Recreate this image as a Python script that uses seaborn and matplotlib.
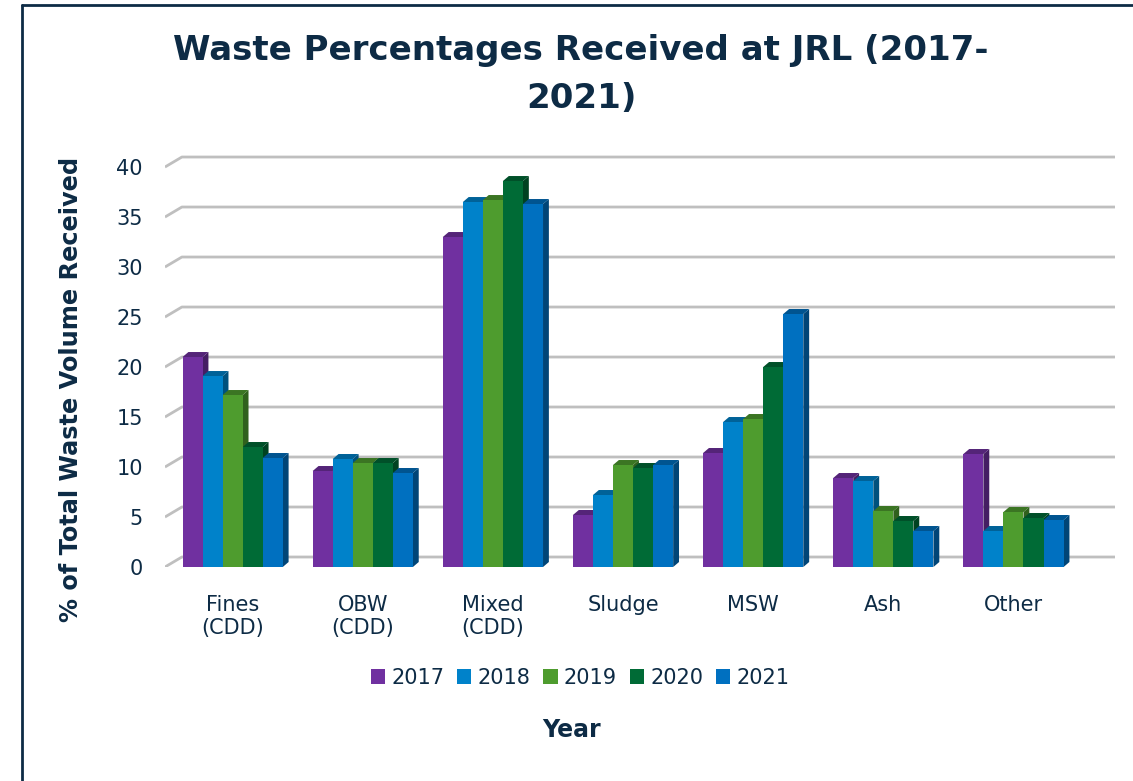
import pandas as pd
import seaborn as sns
import matplotlib.pyplot as plt
from matplotlib.colors import to_rgb
from matplotlib.patches import Polygon
from matplotlib.lines import Line2D

# Dane
categories = ['Fines\n(CDD)', 'OBW\n(CDD)', 'Mixed\n(CDD)', 'Sludge', 'MSW', 'Ash', 'Other']
years = ['2017', '2018', '2019', '2020', '2021']
values_2017 = [21.0, 9.6, 33.0, 5.2, 11.4, 8.9, 11.3]
values_2018 = [19.1, 10.8, 36.5, 7.2, 14.5, 8.6, 3.6]
values_2019 = [17.2, 10.4, 36.7, 10.2, 14.8, 5.6, 5.5]
values_2020 = [12.0, 10.4, 38.6, 9.9, 20.0, 4.6, 4.9]
values_2021 = [10.9, 9.4, 36.3, 10.2, 25.3, 3.6, 4.7]
colors = ['#7030A0', '#0082CA', '#4E9C2E', '#006B36', '#0070C0']

text_color = '#0D2B45'

rows = []
for year, vals in zip(years, [values_2017, values_2018, values_2019, values_2020, values_2021]):
    for cat, v in zip(categories, vals):
        rows.append({'category': cat, 'year': year, 'value': v})
df = pd.DataFrame(rows)

sns.set_style('white')
plt.rcParams['font.family'] = ['DejaVu Sans']

fig = plt.figure(figsize=(11.33, 7.81), dpi=100)
# os: 0 na y=567 px, gora na y=155 px
ax = fig.add_axes([0.1456, 0.274, 0.8385, 0.5275])

sns.barplot(data=df, x='category', y='value', hue='year', palette=colors,
            width=0.77, saturation=1, linewidth=0, ax=ax, zorder=3)

# efekt 3D - boczne i gorne scianki slupkow
dx, dy = 0.045, 0.5
for cont in ax.containers:
    for bar in cont:
        x0, w, h = bar.get_x(), bar.get_width(), bar.get_height()
        c = to_rgb(bar.get_facecolor())
        dark = tuple(v * 0.62 for v in c)
        darker = tuple(v * 0.75 for v in c)
        side = Polygon([(x0 + w, 0), (x0 + w + dx, dy), (x0 + w + dx, h + dy), (x0 + w, h)],
                       closed=True, facecolor=dark, edgecolor='none', zorder=2.9)
        top = Polygon([(x0, h), (x0 + dx, h + dy), (x0 + w + dx, h + dy), (x0 + w, h)],
                      closed=True, facecolor=darker, edgecolor='none', zorder=2.9)
        ax.add_patch(side)
        ax.add_patch(top)

xmin, xmax = -0.52, 6.78
ax.set_xlim(xmin, xmax)
ax.set_ylim(0, 41.2)
ax.set_yticks(range(0, 41, 5))

# linie siatki na tylnej scianie z ukosnym poczatkiem
gdx, gdy = 0.13, 1.0
for t in ax.get_yticks():
    ax.plot([xmin, xmin + gdx, xmax], [t, t + gdy, t + gdy], color='#BFBFBF',
            linewidth=2, zorder=1, solid_capstyle='butt')

for s in ax.spines.values():
    s.set_visible(False)
ax.tick_params(axis='both', length=0, labelsize=15, colors=text_color)
ax.tick_params(axis='y', pad=16)
ax.tick_params(axis='x', pad=20)

ax.set_ylabel('% of Total Waste Volume Received', fontsize=17.3, fontweight='bold', color=text_color)
ax.yaxis.set_label_coords(-0.086, 0.43)
ax.set_xlabel('Year', fontsize=17, fontweight='bold', color=text_color, va='center')
ax.xaxis.set_label_coords(0.428, -0.3955)

sns.move_legend(ax, 'center', bbox_to_anchor=(0.437, -0.2695), ncol=5, frameon=False,
                title=None, fontsize=15, handlelength=0.7, handleheight=0.7,
                handletextpad=0.3, columnspacing=0.6, labelcolor=text_color)

fig.text(0.513, 0.957, 'Waste Percentages Received at JRL (2017-\n2021)', ha='center', va='top',
         fontsize=24.5, fontweight='bold', color=text_color, linespacing=1.6)

# ramka wykresu
fig.add_artist(Line2D([0.0195, 0.0195], [0, 0.994], transform=fig.transFigure, color=text_color, lw=2))
fig.add_artist(Line2D([0.0195, 1], [0.994, 0.994], transform=fig.transFigure, color=text_color, lw=2))

plt.savefig('out.png', dpi=100)
